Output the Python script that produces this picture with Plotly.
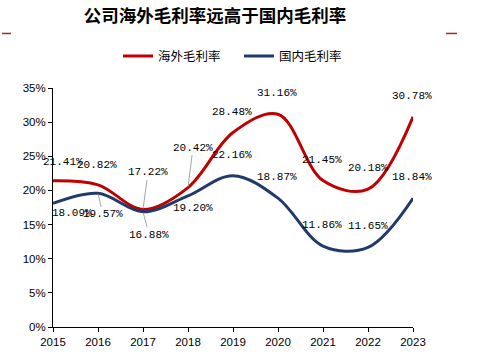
import plotly.graph_objects as go

years = [2015, 2016, 2017, 2018, 2019, 2020, 2021, 2022, 2023]
overseas = [21.41, 20.82, 17.22, 20.42, 28.48, 31.16, 21.45, 20.18, 30.78]
domestic = [18.09, 19.57, 16.88, 19.20, 22.16, 18.87, 11.86, 11.65, 18.84]
series_names = ["海外毛利率", "国内毛利率"]
title_text = "公司海外毛利率远高于国内毛利率"

# label placement: (dx, dy) pixel offsets of text center from the point (dy down positive), leader flag
overseas_lab = [(10, -19, False), (-1, -20, False), (5, -37, True), (5, -40, True), (-1, -21, False),
                (-1, -21, False), (-1, -21, False), (0, -21, False), (-1, -21, False)]
domestic_lab = [(19, 10, False), (5, 21, True), (6, 23, True), (5, 12, False), (-1, -21, False),
                (-1, -21, False), (-1, -21, False), (0, -21, False), (-1, -21, False)]

RED = "#C00000"
NAVY = "#223A6B"

W, H = 493, 360
ML, MR, MT, MB = 53, 80, 88, 31
PW, PH = W - ML - MR, H - MT - MB

fig = go.Figure()
fig.add_trace(go.Scatter(x=years, y=overseas, name=series_names[0], mode="lines",
                         line=dict(color=RED, width=3, shape="spline", smoothing=1)))
fig.add_trace(go.Scatter(x=years, y=domestic, name=series_names[1], mode="lines",
                         line=dict(color=NAVY, width=3, shape="spline", smoothing=1)))

lab_font = dict(family="Liberation Mono, DejaVu Sans Mono, monospace", size=11, color="#000000")
for vals, labs in ((overseas, overseas_lab), (domestic, domestic_lab)):
    for x, v, (dx, dy, leader) in zip(years, vals, labs):
        txt = f"{v:.2f}%"
        if leader:
            fig.add_annotation(x=x, y=v, text=txt, showarrow=True, arrowhead=0, arrowwidth=1,
                               arrowcolor="#A6A6A6", ax=dx, ay=dy, font=lab_font, standoff=1)
        else:
            fig.add_annotation(x=x, y=v, text=txt, showarrow=False, xshift=dx, yshift=-dy,
                               font=lab_font)

# page px -> paper coords
def px_x(px):
    return (px - ML) / PW

def px_y(py):
    return 1 - (py - MT) / PH

# decorative small red dashes beside the title
fig.add_shape(type="line", xref="paper", yref="paper", x0=px_x(2), x1=px_x(11),
              y0=px_y(33), y1=px_y(33), line=dict(color="#A0282D", width=1.5))
fig.add_shape(type="line", xref="paper", yref="paper", x0=px_x(446), x1=px_x(457),
              y0=px_y(33), y1=px_y(33), line=dict(color="#A0282D", width=1.5))

fig.update_layout(
    width=W, height=H,
    margin=dict(l=ML, r=MR, t=MT, b=MB),
    paper_bgcolor="white", plot_bgcolor="white",
    hovermode=False,
    title=dict(text=f"<b>{title_text}</b>", x=215 / W, xanchor="center", y=1 - 16 / H,
               yanchor="middle",
               font=dict(family="Noto Sans CJK SC", size=17.5, color="#000000")),
    legend=dict(orientation="h", x=px_x(118), xanchor="left", y=px_y(56), yanchor="middle",
                font=dict(family="Noto Sans CJK SC", size=12.5, color="#000000"),
                entrywidth=76, entrywidthmode="pixels",
                bgcolor="rgba(0,0,0,0)"),
    showlegend=True,
)
fig.update_xaxes(range=[2015, 2023], tickmode="array", tickvals=years, ticktext=[str(y) for y in years],
                 showgrid=False, zeroline=False, showline=True, linecolor="#000000", linewidth=1,
                 ticks="outside", ticklen=4, tickcolor="#000000",
                 tickfont=dict(family="Liberation Sans, Arial", size=11.5, color="#000000"))
fig.update_yaxes(range=[0, 35], dtick=5, ticksuffix="%", showgrid=False, zeroline=False,
                 showline=True, linecolor="#000000", linewidth=1, ticks="outside", ticklen=4,
                 tickcolor="#000000",
                 tickfont=dict(family="Liberation Sans, Arial", size=11.5, color="#000000"))

fig.write_html("out.html", config={"displayModeBar": False},
               post_script="document.body.style.margin='0';")
